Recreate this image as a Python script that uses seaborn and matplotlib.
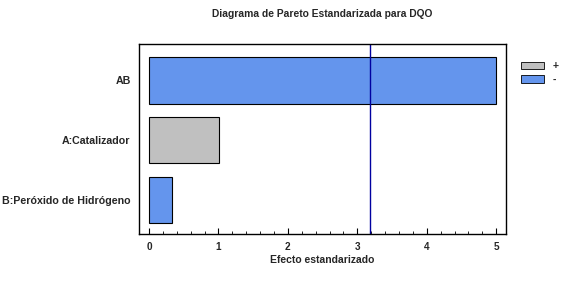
import pandas as pd
import matplotlib.pyplot as plt
import seaborn as sns
from matplotlib.patches import Patch
from matplotlib.ticker import MultipleLocator

# Datos del diagrama de Pareto
efectos = ['AB', 'A:Catalizador', 'B:Peróxido de Hidrógeno']
valores = [5.0, 1.01, 0.33]
signos = ['-', '+', '-']
limite_critico = 3.18

colores = {'+': '#C0C0C0', '-': '#6495ED'}

df = pd.DataFrame({'Efecto': efectos, 'Valor': valores, 'Signo': signos})

sns.set_style('white')
plt.rcParams['font.family'] = ['Liberation Sans', 'DejaVu Sans']
plt.rcParams['font.weight'] = 'bold'

fig = plt.figure(figsize=(5.63, 2.84), dpi=100)
ax = fig.add_axes([139 / 563, 1 - 234 / 284, (506 - 139) / 563, (234 - 44) / 284])

sns.barplot(data=df, x='Valor', y='Efecto', hue='Signo', palette=colores,
            dodge=False, width=0.78, edgecolor='black', linewidth=0.8,
            saturation=1, legend=False, ax=ax)

ax.axvline(limite_critico, color='#0000A0', linewidth=1)

ax.set_xlim(-0.144, 5.14)
ax.set_ylim(2.57, -0.61)
ax.xaxis.set_major_locator(MultipleLocator(1))
ax.xaxis.set_minor_locator(MultipleLocator(0.2))
ax.tick_params(axis='x', which='major', bottom=True, direction='in', length=4,
               width=0.8, color='black', labelsize=7.2, pad=6)
ax.tick_params(axis='x', which='minor', bottom=True, direction='in', length=2,
               width=0.6, color='black')
ax.tick_params(axis='y', length=0, labelsize=7.7, pad=6)
for lbl in ax.get_xticklabels() + ax.get_yticklabels():
    lbl.set_fontweight('bold')

for s in ax.spines.values():
    s.set_color('black')
    s.set_linewidth(1)

ax.set_ylabel('')
ax.set_xlabel('Efecto estandarizado', fontsize=7.5, fontweight='bold', labelpad=2)
fig.text(0.5 * (139 + 506) / 563, 1 - 14 / 284,
         'Diagrama de Pareto Estandarizada para DQO',
         ha='center', va='center', fontsize=7.4, fontweight='bold')

handles = [Patch(facecolor=colores['+'], edgecolor='black', linewidth=0.6, label='+'),
           Patch(facecolor=colores['-'], edgecolor='black', linewidth=0.6, label='-')]
fig.legend(handles=handles, loc='upper left', bbox_to_anchor=(512 / 563, 1 - 52 / 284),
           frameon=False, fontsize=7.5, handlelength=2.2, handleheight=0.7,
           labelspacing=0.3, handletextpad=0.8)

fig.savefig('out.png', dpi=100)
plt.close()
